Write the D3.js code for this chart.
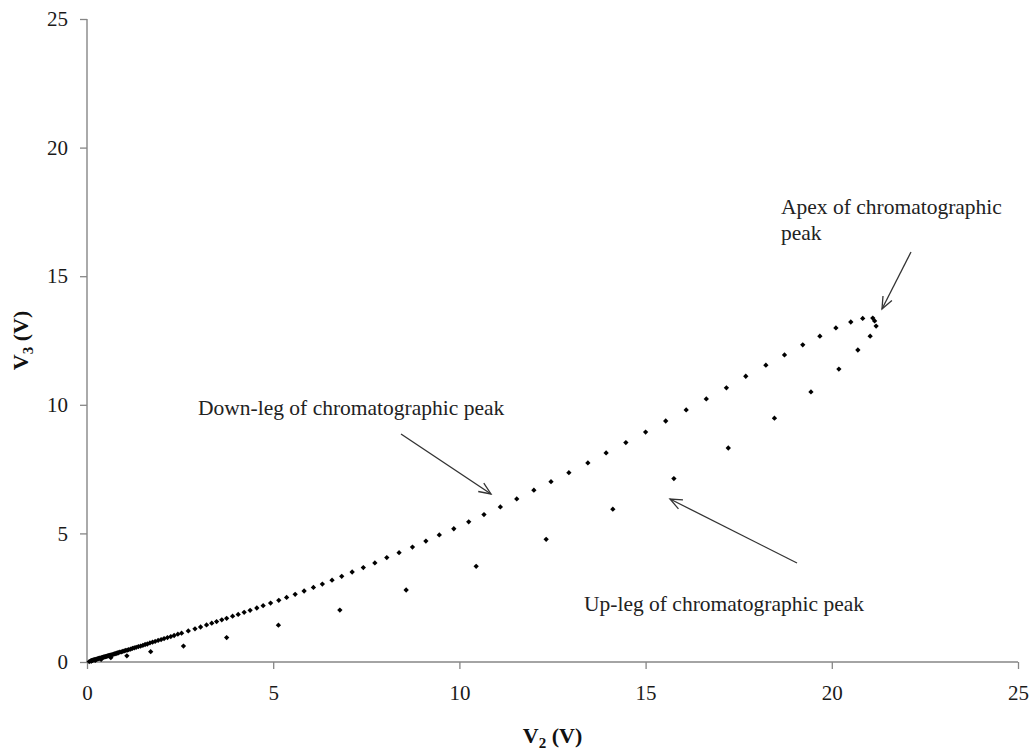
<!DOCTYPE html>
<html>
<head>
<meta charset="utf-8">
<script src="https://cdn.jsdelivr.net/npm/d3@7"></script>
<style>
  html, body { margin: 0; padding: 0; background: #fff; }
  svg { display: block; font-family: "Liberation Serif", "Times New Roman", serif; }
</style>
</head>
<body>
<script>
// Rising side of the peak (sparse points, in time order from baseline to apex)
const upLegV2 = [0.06, 0.12, 0.22, 0.38, 0.64, 1.07, 1.71, 2.59, 3.75, 5.14, 6.79, 8.57, 10.45, 12.33, 14.12, 15.76, 17.22, 18.46, 19.44, 20.19, 20.70, 21.03, 21.19];
const upLegV3 = [0.015, 0.03, 0.06, 0.10, 0.17, 0.24, 0.40, 0.62, 0.95, 1.43, 2.02, 2.80, 3.72, 4.77, 5.94, 7.13, 8.32, 9.48, 10.50, 11.39, 12.13, 12.67, 13.06];

// Apex points
const apexV2 = [21.15, 21.10];
const apexV3 = [13.26, 13.37];

// Falling side of the peak (dense points, from apex back to baseline)
const downLegV2 = [20.83, 20.51, 20.11, 19.68, 19.22, 18.73, 18.23, 17.69, 17.17, 16.63, 16.09, 15.54, 15.00, 14.47, 13.94, 13.45, 12.94, 12.46, 12.00, 11.54, 11.10, 10.66, 10.25, 9.85, 9.46, 9.10, 8.74, 8.38, 8.05, 7.73, 7.42, 7.12, 6.84, 6.58, 6.32, 6.08, 5.83, 5.59, 5.36, 5.15, 4.93, 4.73, 4.56, 4.38, 4.22, 4.06, 3.91, 3.75, 3.62, 3.48, 3.35, 3.21, 3.05, 2.90, 2.72, 2.54, 2.44, 2.34, 2.25, 2.16, 2.07, 1.99, 1.91, 1.83, 1.76, 1.69, 1.62, 1.56, 1.50, 1.44, 1.38, 1.32, 1.27, 1.22, 1.17, 1.12, 1.08, 1.04, 1.00, 0.96, 0.92, 0.88, 0.84, 0.81, 0.78, 0.75, 0.72, 0.69, 0.66, 0.63, 0.61, 0.58, 0.56, 0.54, 0.52, 0.50, 0.48, 0.46, 0.44, 0.42, 0.40, 0.38, 0.36, 0.34, 0.32, 0.30, 0.28, 0.26, 0.24, 0.22, 0.20, 0.18, 0.16, 0.14, 0.12, 0.10];
const downLegV3 = [13.36, 13.22, 12.99, 12.67, 12.33, 11.94, 11.54, 11.11, 10.66, 10.23, 9.80, 9.37, 8.94, 8.53, 8.13, 7.74, 7.36, 7.01, 6.68, 6.34, 6.03, 5.73, 5.45, 5.18, 4.94, 4.70, 4.47, 4.25, 4.06, 3.85, 3.67, 3.50, 3.33, 3.18, 3.03, 2.90, 2.76, 2.63, 2.51, 2.40, 2.29, 2.19, 2.10, 2.01, 1.93, 1.85, 1.78, 1.70, 1.64, 1.57, 1.51, 1.44, 1.36, 1.29, 1.21, 1.12, 1.08, 1.03, 0.99, 0.95, 0.91, 0.87, 0.84, 0.80, 0.77, 0.74, 0.70, 0.68, 0.65, 0.62, 0.60, 0.57, 0.55, 0.53, 0.50, 0.48, 0.46, 0.45, 0.43, 0.41, 0.39, 0.38, 0.36, 0.35, 0.33, 0.32, 0.31, 0.29, 0.28, 0.27, 0.26, 0.25, 0.24, 0.23, 0.22, 0.21, 0.20, 0.20, 0.19, 0.18, 0.17, 0.16, 0.15, 0.15, 0.14, 0.13, 0.12, 0.11, 0.10, 0.09, 0.09, 0.08, 0.07, 0.06, 0.05, 0.04];

// Axis ticks
const xTicks = [0, 5, 10, 15, 20, 25];
const yTicks = [0, 5, 10, 15, 20, 25];

// Annotation texts
const downLabel = "Down-leg of chromatographic peak";
const upLabel = "Up-leg of chromatographic peak";
const apexLines = ["Apex of chromatographic", "peak"];

const W = 1031, H = 752;
const margin = { left: 87, right: 13, top: 19, bottom: 90 };

const svg = d3.select("body").append("svg")
  .attr("width", W).attr("height", H);

const x = d3.scaleLinear().domain([0, 25]).range([margin.left, W - margin.right]);
const y = d3.scaleLinear().domain([0, 25]).range([H - margin.bottom, margin.top]);

const axisColor = "#868686";
const labelFont = "21px";
const noteFont = "21.5px";

// X axis
const gx = svg.append("g")
  .attr("transform", `translate(0,${y(0)})`)
  .call(d3.axisBottom(x).tickValues(xTicks).tickSize(7).tickPadding(16).tickFormat(d3.format("d")));
// Y axis
const gy = svg.append("g")
  .attr("transform", `translate(${x(0)},0)`)
  .call(d3.axisLeft(y).tickValues(yTicks).tickSize(7).tickPadding(12).tickFormat(d3.format("d")));

[gx, gy].forEach(g => {
  g.select(".domain").attr("stroke", axisColor).attr("stroke-width", 1.4);
  g.selectAll(".tick line").attr("stroke", axisColor).attr("stroke-width", 1.3);
  g.selectAll(".tick text")
    .attr("fill", "#1a1a1a")
    .style("font-family", "Liberation Serif, serif")
    .style("font-size", labelFont);
});
gx.select(".domain").attr("d", `M${x(0)},0H${x(25)}`);
gy.select(".domain").attr("d", `M0,${y(0)}V${y(25)}`);

// Axis titles
const xTitle = svg.append("text")
  .attr("x", (x(0) + x(25)) / 2).attr("y", 743)
  .attr("text-anchor", "middle")
  .style("font-size", "22px").style("font-weight", "bold").attr("fill", "#111");
xTitle.append("tspan").text("V");
xTitle.append("tspan").text("2").attr("dy", 5).style("font-size", "15px");
xTitle.append("tspan").text(" (V)").attr("dy", -5);

const yTitle = svg.append("text")
  .attr("transform", `translate(28,${(y(0) + y(25)) / 2}) rotate(-90)`)
  .attr("text-anchor", "middle")
  .style("font-size", "22px").style("font-weight", "bold").attr("fill", "#111");
yTitle.append("tspan").text("V");
yTitle.append("tspan").text("3").attr("dy", 5).style("font-size", "15px");
yTitle.append("tspan").text(" (V)").attr("dy", -5);

// Data points: small diamond markers
const points = [];
upLegV2.forEach((v, i) => points.push([v, upLegV3[i]]));
apexV2.forEach((v, i) => points.push([v, apexV3[i]]));
downLegV2.forEach((v, i) => points.push([v, downLegV3[i]]));

const diamond = d3.symbol().type(d3.symbolSquare).size(14);
svg.append("g").selectAll("path")
  .data(points)
  .join("path")
  .attr("d", diamond)
  .attr("transform", d => `translate(${x(d[0])},${y(d[1])}) rotate(45)`)
  .attr("fill", "#000");

// Annotations with arrows
const arrowColor = "#333";
svg.append("defs").append("marker")
  .attr("id", "arrowhead")
  .attr("viewBox", "-14 -7 16 14")
  .attr("refX", 0).attr("refY", 0)
  .attr("markerWidth", 16).attr("markerHeight", 14)
  .attr("markerUnits", "userSpaceOnUse")
  .attr("orient", "auto")
  .append("path")
  .attr("d", "M-12,-5L0,0L-12,5")
  .attr("fill", "none")
  .attr("stroke", arrowColor)
  .attr("stroke-width", 1.3);

function arrow(x1, y1, x2, y2) {
  svg.append("line")
    .attr("x1", x1).attr("y1", y1).attr("x2", x2).attr("y2", y2)
    .attr("stroke", arrowColor).attr("stroke-width", 1.3)
    .attr("marker-end", "url(#arrowhead)");
}

const annStyle = sel => sel.style("font-size", noteFont).attr("fill", "#222");

svg.append("text").attr("x", 198).attr("y", 415).text(downLabel).call(annStyle);
arrow(401, 434, 491, 494);

svg.append("text").attr("x", 584).attr("y", 611).text(upLabel).call(annStyle);
arrow(797, 563, 670, 499);

svg.append("text").attr("x", 781).attr("y", 214).text(apexLines[0]).call(annStyle);
svg.append("text").attr("x", 781).attr("y", 240).text(apexLines[1]).call(annStyle);
arrow(911, 252, 882, 309);
</script>
</body>
</html>
